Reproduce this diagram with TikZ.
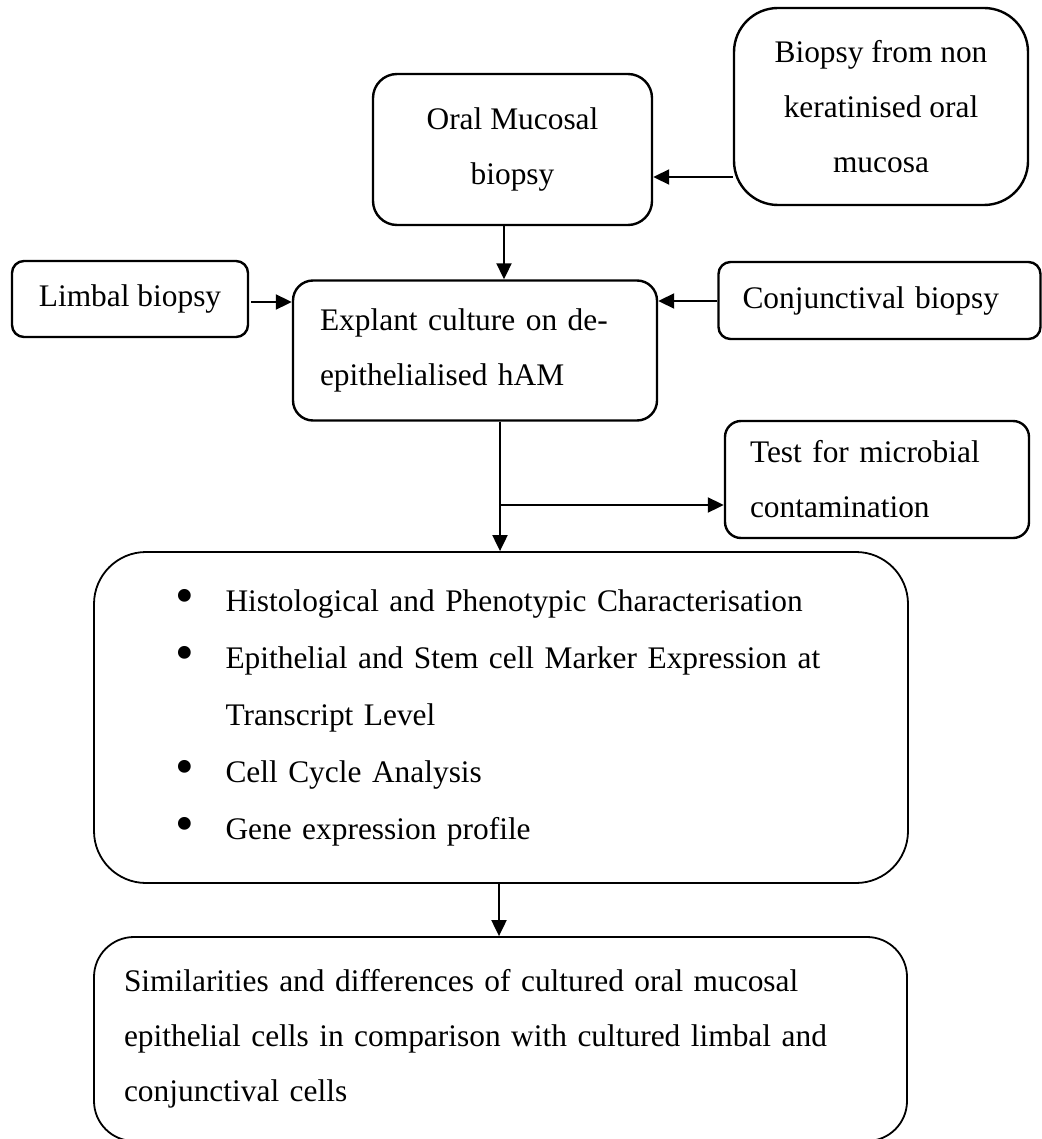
\documentclass[tikz,border=0pt]{standalone}
\usepackage{fontspec}
\setmainfont{Liberation Serif}
\usetikzlibrary{arrows.meta}

\newcommand{\bul}{\makebox[23.75pt][l]{\hspace*{-1.5pt}\raisebox{-0.15ex}{\scalebox{1.7}{\textbullet}}}}

\tikzset{
    box/.style={draw, line width=1.2pt, inner ysep=0pt, font=\fontsize{15.7}{27.5}\selectfont},
    bigbox/.style={box, line width=0.9pt},
    arr/.style={line width=1pt, -{Triangle[length=8pt,width=7.5pt]}}
}

\begin{document}
\begin{tikzpicture}[x=0.5pt,y=-0.5pt]
    \useasboundingbox (0,0) rectangle (1041,1139);
    \node[box, rounded corners=22pt, minimum width=147pt, minimum height=98.5pt, align=center] (nonker) at (881,106.5) {Biopsy from non\\keratinised oral\\mucosa};
    \node[box, rounded corners=12pt, minimum width=139.5pt, minimum height=75.5pt, align=center] (oral) at (512.5,149.5) {Oral Mucosal\\biopsy};
    \node[box, rounded corners=6pt, minimum width=118pt, minimum height=38pt, align=center] (limbal) at (130,299) {Limbal biopsy};
    \node[box, rounded corners=10pt, minimum width=182pt, minimum height=70pt, inner xsep=13.5pt, text width=155pt, align=left] (explant) at (475,350.5) {\makebox[154.5pt][s]{Explant culture on de-}\\epithelialised hAM};
    \node[box, rounded corners=6pt, minimum width=161pt, minimum height=38.5pt, inner xsep=12pt, text width=137pt, align=left] (conj) at (879.5,300.5) {Conjunctival biopsy};
    \node[box, rounded corners=8pt, minimum width=152pt, minimum height=58.5pt, inner xsep=12.5pt, text width=127pt, align=left] (test) at (877,479.5) {\makebox[126pt][s]{Test for microbial}\\contamination};
    \node[bigbox, rounded corners=26pt, minimum width=407pt, minimum height=165.5pt, inner xsep=42pt, text width=323pt, align=left, font=\fontsize{15.7}{28.5}\selectfont] (big) at (501,717.5) {\bul Histological and Phenotypic Characterisation\\
        \bul Epithelial and Stem cell Marker Expression at\\
        \hspace*{23.75pt}Transcript Level\\
        \bul Cell Cycle Analysis\\
        \bul Gene expression profile};
    \node[bigbox, rounded corners=20pt, minimum width=406.5pt, minimum height=102pt, inner xsep=15pt, text width=376.5pt, align=left] (final) at (500.5,1039) {Similarities and differences of cultured oral mucosal\\epithelial cells in comparison with cultured limbal and\\conjunctival cells};

    \draw[arr] (nonker.west |- 0,177) -- (oral.east |- 0,177);
    \draw[arr] (oral.south -| 504,0) -- (explant.north -| 504,0);
    \draw[arr] ([xshift=1pt]limbal.east |- 0,302) -- (explant.west |- 0,302);
    \draw[arr] (conj.west |- 0,301) -- (explant.east |- 0,301);
    \coordinate (split) at (500,505);
    \draw[arr] (explant.south -| split) -- (big.north -| split);
    \draw[arr] (split) -- (test.west |- split);
    \draw[arr] (big.south -| 499,0) -- (final.north -| 499,0);
\end{tikzpicture}
\end{document}
